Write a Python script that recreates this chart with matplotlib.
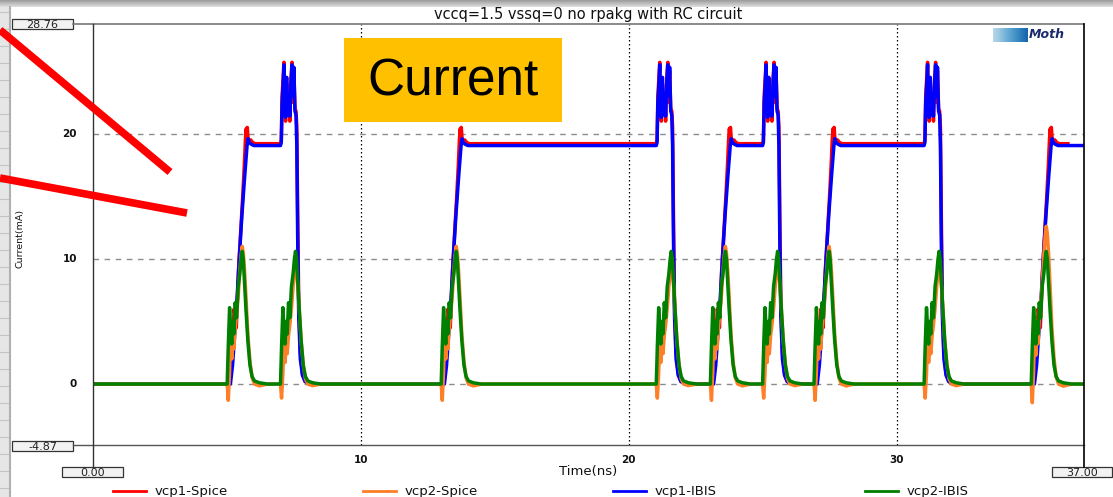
import numpy as np
import matplotlib
matplotlib.use("Agg")
import matplotlib.pyplot as plt
from matplotlib.patches import Rectangle

plt.rcParams["font.family"] = ["DejaVu Sans"]

# ---- data (time in ns, current in mA) ----
title = "vccq=1.5 vssq=0 no rpakg with RC circuit"
x_min, x_max = 0.0, 37.0
y_min, y_max = -4.87, 28.76
x_ticks = [10, 20, 30]
y_ticks = [0, 10, 20]

# start of every switching event and its kind
event_times = [5.01, 7.0, 13.0, 21.03, 23.05, 25.0, 26.92, 31.03, 35.03]
event_kinds = ["rise", "burst", "rise", "burst", "rise", "burst", "rise", "burst", "rise"]

# vcp1 rising edge (offset from event start)
rise_dt = [0.0, 0.12, 0.2, 0.28, 0.36, 0.45, 0.55, 0.65, 0.74, 0.78, 0.82, 0.9, 1.0]
ibis1_rise = [0.0, 0.0, 1.5, 4.0, 6.5, 10.0, 13.5, 16.5, 19.0, 19.6, 19.3, 19.15, 19.05]
spice1_rise_dt = [0.0, 0.1, 0.18, 0.26, 0.34, 0.42, 0.5, 0.58, 0.64, 0.68, 0.71, 0.73,
                  0.75, 0.78, 0.82, 0.88, 0.95, 1.05]
spice1_rise = [0.0, 0.0, 2.5, 6.0, 4.5, 9.0, 12.0, 15.0, 17.5, 19.5, 20.4, 19.8,
               20.5, 19.6, 19.4, 19.5, 19.3, 19.2]

# vcp1 double-peak burst and fall
burst_dt = [0.0, 0.03, 0.06, 0.1, 0.13, 0.16, 0.19, 0.23, 0.27, 0.31, 0.35, 0.39,
            0.43, 0.46, 0.5, 0.54, 0.58, 0.61, 0.64, 0.68, 0.74, 0.82, 0.92, 1.1]
ibis1_burst = [19.05, 19.3, 22.5, 24.0, 25.5, 22.0, 21.3, 24.5, 21.5, 22.8, 21.4, 24.0,
               25.5, 23.0, 25.3, 21.8, 21.5, 19.0, 12.0, 5.5, 2.0, 0.7, 0.2, 0.0]
spice1_burst = [19.2, 19.5, 23.0, 24.5, 25.7, 22.5, 21.0, 24.0, 21.8, 22.5, 21.0, 24.3,
                25.7, 22.5, 25.0, 22.0, 21.8, 20.5, 14.0, 6.5, 2.5, 0.8, 0.2, 0.0]
spice1_end = 36.4

# vcp2 pulse at every event
pulse_dt = [0.0, 0.04, 0.09, 0.13, 0.17, 0.21, 0.25, 0.3, 0.35, 0.41, 0.47, 0.52,
            0.56, 0.6, 0.65, 0.7, 0.77, 0.85, 0.93, 1.02, 1.2, 1.5]
ibis2_pulse = [0.0, 3.0, 6.1, 4.5, 3.2, 5.0, 4.0, 6.5, 5.3, 7.8, 8.8, 10.0,
               10.6, 10.0, 8.0, 6.0, 3.5, 1.5, 0.6, 0.25, 0.1, 0.0]
spice2_pulse = [0.0, -1.3, 1.0, 4.5, 2.0, 3.8, 2.8, 4.5, 5.5, 7.0, 9.0, 10.3,
                11.0, 10.5, 9.0, 7.0, 4.0, 1.8, 0.5, 0.0, -0.15, 0.0]
spice2_peaks = [11.0, 9.5, 11.0, 9.5, 11.0, 9.5, 11.0, 9.5, 12.6]


def edge_wave(rise_t, rise_v, burst_t, burst_v, end):
    ts, vs = [x_min], [0.0]
    for t0, kind in zip(event_times, event_kinds):
        dts, vals = (rise_t, rise_v) if kind == "rise" else (burst_t, burst_v)
        ts += [t0 + d for d in dts]
        vs += list(vals)
    ts.append(end)
    vs.append(vs[-1])
    return np.array(ts), np.array(vs)


def pulse_wave(vals, peaks=None):
    ts, vs = [x_min], [0.0]
    for i, t0 in enumerate(event_times):
        k = 1.0 if peaks is None else peaks[i] / max(vals)
        ts += [t0 + d for d in pulse_dt]
        vs += [v * k for v in vals]
    ts.append(x_max)
    vs.append(0.0)
    return np.array(ts), np.array(vs)


t_s1, i_s1 = edge_wave(spice1_rise_dt, spice1_rise, burst_dt, spice1_burst, spice1_end)
t_i1, i_i1 = edge_wave(rise_dt, ibis1_rise, burst_dt, ibis1_burst, x_max)
t_s2, i_s2 = pulse_wave(spice2_pulse, spice2_peaks)
t_i2, i_i2 = pulse_wave(ibis2_pulse)

W, H = 1113, 497
fig = plt.figure(figsize=(W / 100, H / 100), dpi=100)
fig.patch.set_facecolor("white")

# screenshot background: grey top bar, spreadsheet strip on the left
bg = fig.add_axes([0, 0, 1, 1], zorder=0)
bg.axis("off")
grad = np.linspace(0.62, 0.86, 8).reshape(-1, 1)
bg.imshow(grad, cmap="gray", vmin=0, vmax=1, extent=[0, W, 7, 0], aspect="auto")
bg.add_patch(Rectangle((0, 7), 10, H, color="#e6e6e6", lw=0))
for yy in range(12, H, 17):
    bg.plot([0, 10], [yy, yy], color="#c4c4c4", lw=0.8)
bg.plot([9.5, 9.5], [7, H], color="#b0b0b0", lw=1.5)
bg.set_xlim(0, W)
bg.set_ylim(H, 0)

# main plot
ax = fig.add_axes([93 / W, 1 - 445 / H, (1084 - 93) / W, (445 - 24) / H], zorder=1)
ax.patch.set_alpha(0)
ax.set_xlim(x_min, x_max)
ax.set_ylim(y_min, y_max)
for s in ax.spines.values():
    s.set_visible(False)
ax.set_xticks([])
ax.set_yticks([])
for xv in x_ticks:
    ax.axvline(xv, color="black", lw=0.9, ls=(0, (1.2, 2)), zorder=1)
for yv in y_ticks:
    ax.axhline(yv, color="#8c8c8c", lw=1.0, ls=(0, (4, 4)), zorder=1)

lw = 2.5
ax.plot(t_s1, i_s1, color="#ff0000", lw=lw, zorder=2)
ax.plot(t_i1, i_i1, color="#0000ff", lw=lw, zorder=3)
ax.plot(t_s2, i_s2, color="#ff7f27", lw=lw, zorder=4)
ax.plot(t_i2, i_i2, color="#008000", lw=lw, zorder=5)

# overlay in pixel coordinates for frame, labels and slide annotations
ov = fig.add_axes([0, 0, 1, 1], zorder=3)
ov.axis("off")
ov.patch.set_alpha(0)

ov.plot([73, 1084], [24, 24], color="#777777", lw=1.2)
ov.plot([73, 1084], [445, 445], color="#555555", lw=1.0)
ov.plot([93, 93], [24, 467], color="#333333", lw=1.0)
ov.plot([1084, 1084], [24, 467], color="black", lw=1.2)


def box_label(x0, y0, w, h, txt):
    ov.add_patch(Rectangle((x0, y0), w, h, facecolor="#f2f2f2", edgecolor="#333333", lw=0.9))
    ov.text(x0 + w / 2, y0 + h / 2 + 0.5, txt, ha="center", va="center", fontsize=8,
            color="#222222")


box_label(12, 19, 61, 10, "28.76")
box_label(12, 441, 61, 10, "-4.87")
box_label(62, 467, 61, 10, "0.00")
box_label(1052, 467, 60, 10, "37.00")

for yv in y_ticks:
    ypx = 24 + (y_max - yv) / (y_max - y_min) * (445 - 24)
    ov.text(77, ypx, str(yv), ha="right", va="center", fontsize=7.5,
            fontweight="bold", color="#111111")
for xv in x_ticks:
    xpx = 93 + (xv - x_min) / (x_max - x_min) * (1084 - 93)
    ov.text(xpx, 460, str(xv), ha="center", va="center", fontsize=7.5,
            fontweight="bold", color="#111111")

ov.text(588, 14, title, ha="center", va="center", fontsize=10.5, color="#111111")
ov.text(588, 472, "Time(ns)", ha="center", va="center", fontsize=9.5, color="#111111")
ov.text(20, 238, "Current(mA)", ha="center", va="center", rotation=90, fontsize=6.8,
        color="#111111")

# legend
leg_names = ["vcp1-Spice", "vcp2-Spice", "vcp1-IBIS", "vcp2-IBIS"]
leg_colors = ["#ff0000", "#ff7f27", "#0000ff", "#008000"]
leg_x = [113, 363, 613, 865]
for name, c, x0 in zip(leg_names, leg_colors, leg_x):
    ov.plot([x0, x0 + 33], [491, 491], color=c, lw=2.0)
    ov.text(x0 + 42, 491, name, ha="left", va="center", fontsize=9.5, color="#111111")

# logo
logo = np.linspace(0, 1, 40).reshape(1, -1)
ov.imshow(logo, cmap="Blues", vmin=-0.6, vmax=1.4, extent=[993, 1028, 42, 28],
          aspect="auto", zorder=2)
ov.text(1029, 35, "Moth", fontsize=9, fontstyle="italic", fontweight="bold",
        color="#1a2a6e", va="center", ha="left")

# slide annotations
ov.add_patch(Rectangle((344, 38), 218, 84, facecolor="#ffc000", edgecolor="none", zorder=6))
ov.text(453, 82, "Current", ha="center", va="center", fontsize=37, color="black",
        family="Liberation Sans", zorder=7)
ov.plot([0, 170], [30, 172], color="#ff0000", lw=5.5, solid_capstyle="butt", zorder=6)
ov.plot([0, 187], [178, 213], color="#ff0000", lw=5.5, solid_capstyle="butt", zorder=6)
ov.set_xlim(0, W)
ov.set_ylim(H, 0)

fig.savefig("out.png", dpi=100)
